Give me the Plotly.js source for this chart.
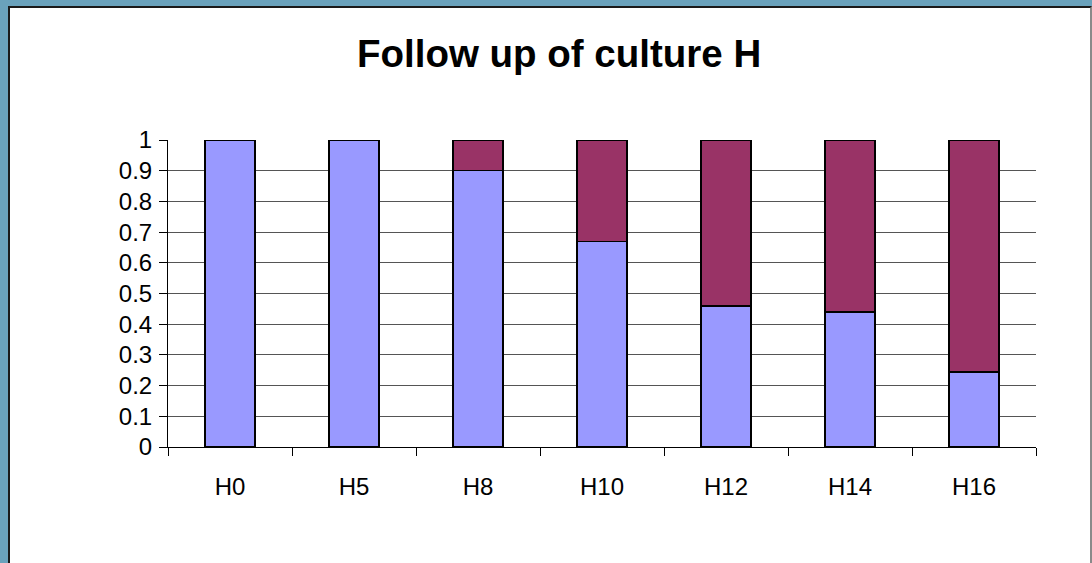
<!DOCTYPE html>
<html>
<head>
<meta charset="utf-8">
<script src="https://cdn.plot.ly/plotly-3.0.1.min.js"></script>
<style>
  html, body { margin: 0; padding: 0; width: 1092px; height: 563px; overflow: hidden; background: #6aa2bc; }
  #frame { position: absolute; left: 8px; top: 6px; width: 1080px; height: 570px; background: #ffffff;
           border-left: 2px solid #1a1a1a; border-top: 2px solid #1a1a1a; border-right: 2px solid #8a8a8a; }
  #chart { position: absolute; left: 0; top: 0; width: 1092px; height: 563px; }
</style>
</head>
<body>
<div id="frame"></div>
<div id="chart"></div>
<script>
const categories = ["H0", "H5", "H8", "H10", "H12", "H14", "H16"];
const lowerShare = [1.0, 1.0, 0.90, 0.67, 0.46, 0.44, 0.245];
const upperShare = [0.0, 0.0, 0.10, 0.33, 0.54, 0.56, 0.755];
const yTicks = [0, 0.1, 0.2, 0.3, 0.4, 0.5, 0.6, 0.7, 0.8, 0.9, 1];

const font = "Liberation Sans, Arial, sans-serif";
const traces = [
  { type: "bar", x: categories, y: lowerShare, name: "lower",
    marker: { color: "#9999ff", line: { color: "#000000", width: 1.5 } } },
  { type: "bar", x: categories, y: upperShare, name: "upper",
    marker: { color: "#993366", line: { color: "#000000", width: 1.5 } } }
];
const layout = {
  width: 1092, height: 563,
  paper_bgcolor: "rgba(0,0,0,0)", plot_bgcolor: "rgba(0,0,0,0)",
  barmode: "stack", bargap: 0.595, showlegend: false,
  margin: { l: 168, r: 56, t: 140, b: 116 },
  title: { text: "<b>Follow up of culture H</b>", x: 0.512, xanchor: "center", y: 0.905, yanchor: "middle",
           font: { family: font, size: 38.5, color: "#000000" } },
  xaxis: { type: "category", tickson: "boundaries", ticks: "outside", ticklen: 8, tickcolor: "#000000",
           showline: true, linecolor: "#000000", linewidth: 1, showgrid: false,
           tickfont: { family: font, size: 24, color: "#000000" }, ticklabelstandoff: 18 },
  yaxis: { range: [0, 1], tickvals: yTicks, ticks: "outside", ticklen: 8, tickcolor: "#000000",
           showline: true, linecolor: "#000000", linewidth: 1, showgrid: true, gridcolor: "#555555", gridwidth: 1,
           zeroline: false, tickfont: { family: font, size: 24, color: "#000000" }, ticklabelstandoff: 2 }
};
Plotly.newPlot("chart", traces, layout, { displayModeBar: false, staticPlot: true });
</script>
</body>
</html>
